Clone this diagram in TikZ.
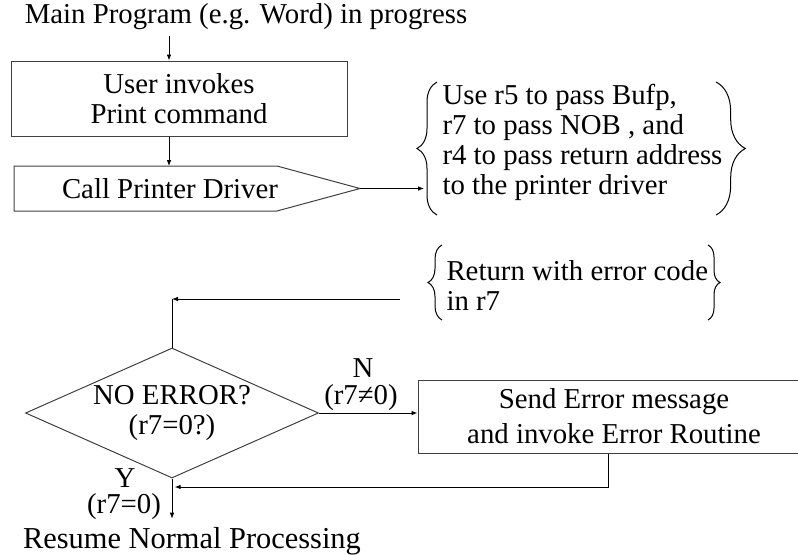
\documentclass[tikz,border=0pt]{standalone}
\usepackage{fontspec}
\setmainfont{Liberation Serif}
\usetikzlibrary{
  arrows.meta,
  positioning,
  shapes.geometric,
  decorations.pathreplacing
}

\begin{document}
\begin{tikzpicture}[
    x=0.75pt, y=-0.75pt,
    line width=0.75pt,
    txt/.style={inner sep=0pt, font=\fontsize{21.6}{22.5}\selectfont},
    pbox/.style={
        draw=black!75, txt, align=center
    },
    flow/.style={-{Latex[length=4.5pt, width=3.5pt]}},
    lbrace/.style={decorate, decoration={brace, amplitude=#1}}
]
\useasboundingbox (0,0) rectangle (798,554);
\def\xA{169}

\coordinate (colA) at (\xA,0);
\coordinate (backy) at (0,487);

\node[txt] (main) at (246,17) {Main Program (e.g. Word) in progress};

\node[pbox, minimum width=252pt, minimum height=56.25pt] (invoke) at (179,98.5)
  {User invokes\\ Print command};

\draw[draw=black!75] (14,166) coordinate (calltop) -- (277,166)
  -- (360,188.5) coordinate (calltip) -- (277,211) -- (14,211) -- cycle;
\node[txt] (call) at (170,188.5) {Call Printer Driver};

\node[txt, align=left, anchor=west] (params) at (442,142)
  {Use r5 to pass Bufp,\\ r7 to pass NOB , and\\ r4 to pass return address\\ to the printer driver};
\draw[lbrace=15pt] (437,215) -- (437,82);
\draw[lbrace=22pt] (716,82) -- (716,215);

\node[txt, align=left, anchor=west] (ret) at (446,286)
  {Return with error code\\ in r7};
\draw[lbrace=10.5pt] (442,320) -- (442,245);
\draw[lbrace=9pt] (708,245) -- (708,320);

\node[diamond, draw=black!75, txt, align=center, aspect=2.25,
      minimum width=219.75pt, minimum height=97.5pt] (check) at (172,413)
  {NO ERROR?\\ (r7=0?)};

\node[pbox, minimum width=294pt, minimum height=54.75pt,
      font=\fontsize{21.6}{26.25}\selectfont] (err) at (614,416.5)
  {Send Error message\\ and invoke Error Routine};

\node[txt] (nlbl) at (363,368) {N};
\node[txt] (nval) at (361,398) {(r7≠0)};
\node[txt] (ylbl) at (125,478) {Y};
\node[txt] (yval) at (124,507) {(r7=0)};

\node[txt, font=\fontsize{22.8}{24}\selectfont] (resume) at (192,541) {Resume Normal Processing};

\coordinate (parin) at (424,188.5);
\coordinate (retout) at (400,299);

\draw[flow, shorten <=4pt] (main.south -| colA) -- (invoke.north -| colA);
\draw[flow] (invoke.south -| colA) -- (calltop -| colA);
\draw[flow] (calltip) -- (parin);
\draw[flow] (retout) -- (check.north |- retout);
\draw (check.north |- retout) -- (check.north);
\draw[flow] (check.east) -- (check.east -| err.west);
\draw[flow] ([xshift=-4pt]err.south) |- ([xshift=2pt]check.south |- backy);
\draw[flow, shorten >=6pt] (check.south) -- (check.south |- resume.north);

\end{tikzpicture}
\end{document}
